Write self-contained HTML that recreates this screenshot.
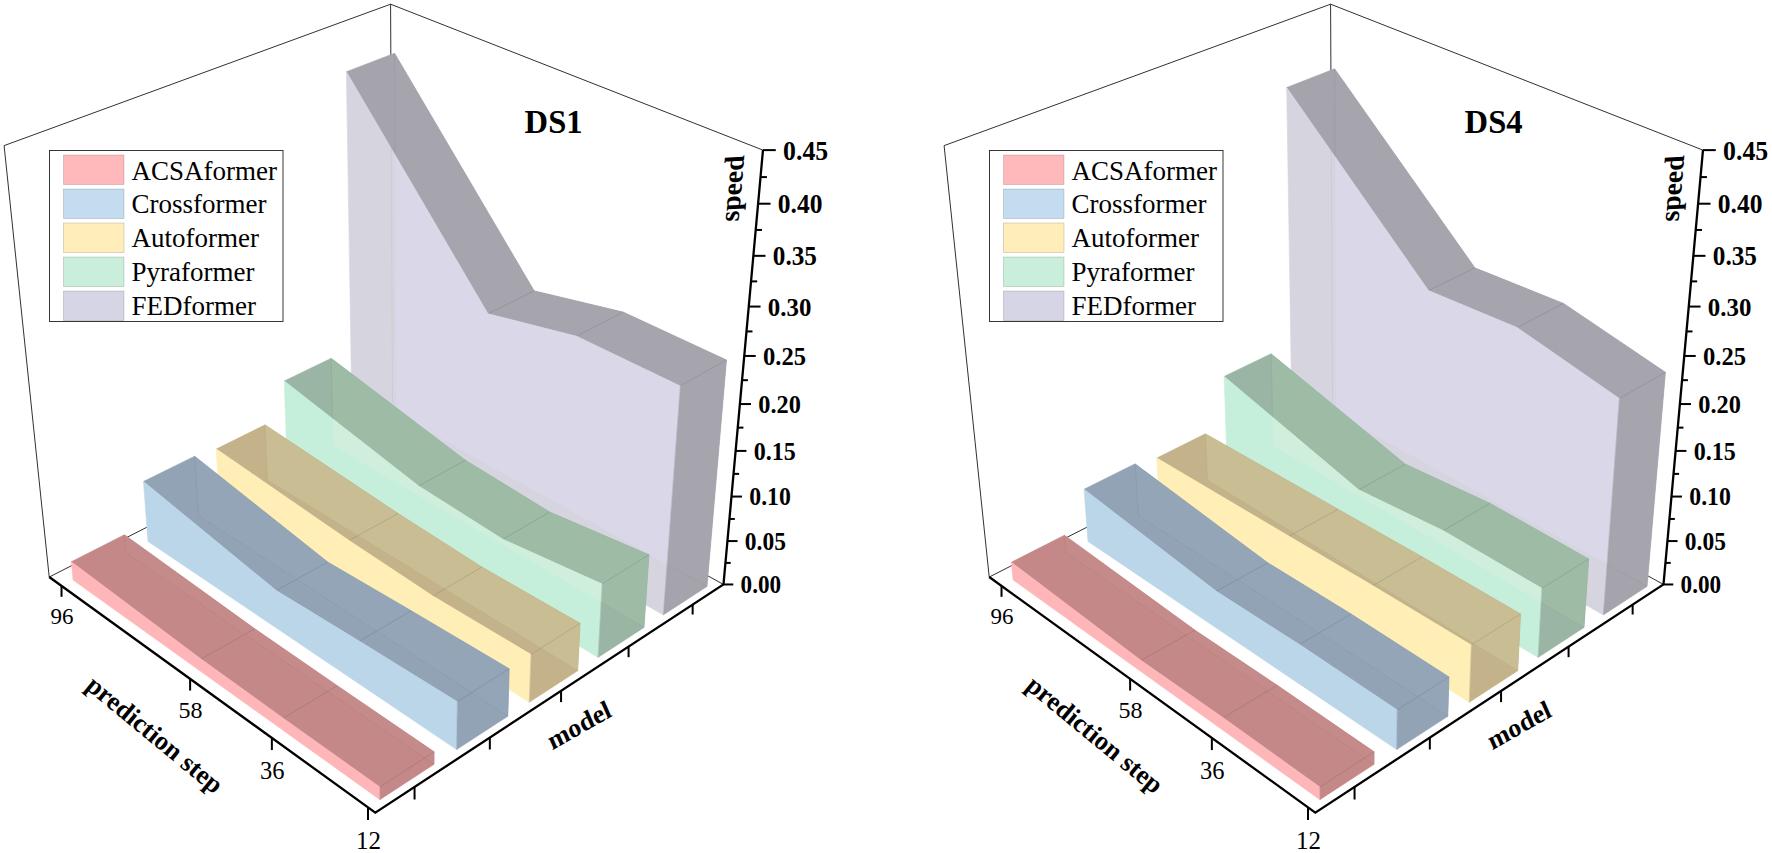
<!DOCTYPE html>
<html><head><meta charset="utf-8"><title>Speed comparison DS1 / DS4</title>
<style>
html,body{margin:0;padding:0;background:#fff;}
svg{display:block;}
text{font-family:"Liberation Serif","Times New Roman",serif;fill:#000;}
.b{font-weight:bold;}
.r{font-weight:normal;}
</style></head><body>
<svg width="1772" height="853" viewBox="0 0 1772 853">
<rect width="1772" height="853" fill="#fff"/>
<g>
<line x1="49.22" y1="577.05" x2="4.10" y2="145.61" stroke="#1a1a1a" stroke-width="0.9" />
<line x1="4.10" y1="145.61" x2="390.58" y2="4.20" stroke="#1a1a1a" stroke-width="0.9" />
<line x1="390.58" y1="4.20" x2="762.97" y2="150.11" stroke="#1a1a1a" stroke-width="0.9" />
<line x1="390.58" y1="4.20" x2="392.52" y2="401.82" stroke="#1a1a1a" stroke-width="0.9" />
<line x1="49.22" y1="577.05" x2="392.52" y2="401.82" stroke="#1a1a1a" stroke-width="0.9" />
<line x1="723.49" y1="584.46" x2="392.52" y2="401.82" stroke="#1a1a1a" stroke-width="0.9" />
<clipPath id="cDS14"><polygon points="346.41,71.74 487.93,313.76 576.67,336.24 680.25,386.02 663.29,614.92 707.02,586.42 726.54,359.93 623.13,312.01 534.17,290.84 394.60,53.22"/></clipPath>
<polygon points="346.41,71.74 487.93,313.76 576.67,336.24 680.25,386.02 663.29,614.92 707.02,586.42 726.54,359.93 623.13,312.01 534.17,290.84 394.60,53.22" fill="#A5A3AC" stroke="#A5A3AC" stroke-width="0.6"/>
<g clip-path="url(#cDS14)"><polygon points="394.60,53.22 534.17,290.84 623.13,312.01 726.54,359.93 707.02,586.42 610.49,532.76 527.68,486.74 396.02,413.56" fill="#A6A5AE" stroke="#A6A5AE" stroke-width="0.5"/><line x1="394.60" y1="53.22" x2="396.02" y2="413.56" stroke="#000" stroke-width="0.7" stroke-opacity="0.07"/><polyline points="396.02,413.56 527.68,486.74 610.49,532.76 707.02,586.42" fill="none" stroke="#000" stroke-opacity="0.05" stroke-width="0.7"/></g>
<line x1="487.93" y1="313.76" x2="534.17" y2="290.84" stroke="#2a3a4a" stroke-width="0.8" stroke-opacity="0.2"/>
<line x1="576.67" y1="336.24" x2="623.13" y2="312.01" stroke="#2a3a4a" stroke-width="0.8" stroke-opacity="0.2"/>
<line x1="680.25" y1="386.02" x2="726.54" y2="359.93" stroke="#2a3a4a" stroke-width="0.8" stroke-opacity="0.18"/>
<clipPath id="fDS14"><polygon points="346.41,71.74 487.93,313.76 576.67,336.24 680.25,386.02 663.29,614.92 566.62,559.34 483.80,511.71 352.29,436.10"/></clipPath>
<polygon points="346.41,71.74 487.93,313.76 576.67,336.24 680.25,386.02 663.29,614.92 566.62,559.34 483.80,511.71 352.29,436.10" fill="#D6D5DF" stroke="#D6D5DF" stroke-width="0.6"/>
<g clip-path="url(#fDS14)"><polygon points="394.60,53.22 534.17,290.84 623.13,312.01 726.54,359.93 707.02,586.42 610.49,532.76 527.68,486.74 396.02,413.56" fill="#D9D7E8" /><line x1="390.58" y1="4.20" x2="392.52" y2="401.82" stroke="#000" stroke-width="0.8" stroke-opacity="0.06"/></g>
<line x1="680.25" y1="386.02" x2="663.29" y2="614.92" stroke="#2a3a4a" stroke-width="0.8" stroke-opacity="0.20"/>
<clipPath id="cDS13"><polygon points="284.29,381.00 418.64,485.88 502.84,539.29 602.11,583.99 598.02,657.46 644.06,627.46 649.06,554.70 549.70,511.94 465.50,460.29 331.23,358.29"/></clipPath>
<polygon points="284.29,381.00 418.64,485.88 502.84,539.29 602.11,583.99 598.02,657.46 644.06,627.46 649.06,554.70 549.70,511.94 465.50,460.29 331.23,358.29" fill="#9BB5A4" stroke="#9BB5A4" stroke-width="0.6"/>
<g clip-path="url(#cDS13)"><polygon points="331.23,358.29 465.50,460.29 549.70,511.94 649.06,554.70 644.06,627.46 547.36,571.01 464.54,522.68 333.12,445.97" fill="#9DBBA5" stroke="#9DBBA5" stroke-width="0.5"/><line x1="331.23" y1="358.29" x2="333.12" y2="445.97" stroke="#000" stroke-width="0.7" stroke-opacity="0.07"/><polyline points="333.12,445.97 464.54,522.68 547.36,571.01 644.06,627.46" fill="none" stroke="#000" stroke-opacity="0.05" stroke-width="0.7"/></g>
<line x1="418.64" y1="485.88" x2="465.50" y2="460.29" stroke="#2a3a4a" stroke-width="0.8" stroke-opacity="0.2"/>
<line x1="502.84" y1="539.29" x2="549.70" y2="511.94" stroke="#2a3a4a" stroke-width="0.8" stroke-opacity="0.2"/>
<line x1="602.11" y1="583.99" x2="649.06" y2="554.70" stroke="#2a3a4a" stroke-width="0.8" stroke-opacity="0.18"/>
<clipPath id="fDS13"><polygon points="284.29,381.00 418.64,485.88 502.84,539.29 602.11,583.99 598.02,657.46 501.26,598.94 418.49,548.88 287.35,469.56"/></clipPath>
<polygon points="284.29,381.00 418.64,485.88 502.84,539.29 602.11,583.99 598.02,657.46 501.26,598.94 418.49,548.88 287.35,469.56" fill="#C5EFDA" stroke="#C5EFDA" stroke-width="0.6"/>
<g clip-path="url(#fDS13)"><polygon points="331.23,358.29 465.50,460.29 549.70,511.94 649.06,554.70 644.06,627.46 547.36,571.01 464.54,522.68 333.12,445.97" fill="#CFEEDB" /></g>
<line x1="602.11" y1="583.99" x2="598.02" y2="657.46" stroke="#2a3a4a" stroke-width="0.8" stroke-opacity="0.20"/>
<clipPath id="cDS12"><polygon points="216.31,449.01 349.08,540.51 432.79,595.98 530.94,654.49 529.23,702.30 577.77,670.67 580.13,623.31 481.91,567.03 398.11,513.44 265.06,424.84"/></clipPath>
<polygon points="216.31,449.01 349.08,540.51 432.79,595.98 530.94,654.49 529.23,702.30 577.77,670.67 580.13,623.31 481.91,567.03 398.11,513.44 265.06,424.84" fill="#C4B38A" stroke="#C4B38A" stroke-width="0.6"/>
<g clip-path="url(#cDS12)"><polygon points="265.06,424.84 398.11,513.44 481.91,567.03 580.13,623.31 577.77,670.67 481.00,611.22 398.27,560.39 267.28,479.91" fill="#C8BD93" stroke="#C8BD93" stroke-width="0.5"/><line x1="265.06" y1="424.84" x2="267.28" y2="479.91" stroke="#000" stroke-width="0.7" stroke-opacity="0.07"/><polyline points="267.28,479.91 398.27,560.39 481.00,611.22 577.77,670.67" fill="none" stroke="#000" stroke-opacity="0.05" stroke-width="0.7"/></g>
<line x1="349.08" y1="540.51" x2="398.11" y2="513.44" stroke="#2a3a4a" stroke-width="0.8" stroke-opacity="0.2"/>
<line x1="432.79" y1="595.98" x2="481.91" y2="567.03" stroke="#2a3a4a" stroke-width="0.8" stroke-opacity="0.2"/>
<line x1="530.94" y1="654.49" x2="580.13" y2="623.31" stroke="#2a3a4a" stroke-width="0.8" stroke-opacity="0.18"/>
<clipPath id="fDS12"><polygon points="216.31,449.01 349.08,540.51 432.79,595.98 530.94,654.49 529.23,702.30 432.50,640.60 349.91,587.92 219.32,504.62"/></clipPath>
<polygon points="216.31,449.01 349.08,540.51 432.79,595.98 530.94,654.49 529.23,702.30 432.50,640.60 349.91,587.92 219.32,504.62" fill="#FFEEB5" stroke="#FFEEB5" stroke-width="0.6"/>
<g clip-path="url(#fDS12)"><polygon points="265.06,424.84 398.11,513.44 481.91,567.03 580.13,623.31 577.77,670.67 481.00,611.22 398.27,560.39 267.28,479.91" fill="#FFF0BB" /></g>
<line x1="530.94" y1="654.49" x2="529.23" y2="702.30" stroke="#2a3a4a" stroke-width="0.8" stroke-opacity="0.20"/>
<clipPath id="cDS11"><polygon points="143.48,481.51 276.30,590.60 359.43,641.21 457.31,701.71 456.63,749.62 507.87,716.23 509.26,668.76 411.18,610.66 327.75,562.01 194.70,456.17"/></clipPath>
<polygon points="143.48,481.51 276.30,590.60 359.43,641.21 457.31,701.71 456.63,749.62 507.87,716.23 509.26,668.76 411.18,610.66 327.75,562.01 194.70,456.17" fill="#92A3B5" stroke="#92A3B5" stroke-width="0.6"/>
<g clip-path="url(#cDS11)"><polygon points="194.70,456.17 327.75,562.01 411.18,610.66 509.26,668.76 507.87,716.23 411.17,653.52 328.66,600.01 198.28,515.46" fill="#93A5B7" stroke="#93A5B7" stroke-width="0.5"/><line x1="194.70" y1="456.17" x2="198.28" y2="515.46" stroke="#000" stroke-width="0.7" stroke-opacity="0.07"/><polyline points="198.28,515.46 328.66,600.01 411.17,653.52 507.87,716.23" fill="none" stroke="#000" stroke-opacity="0.05" stroke-width="0.7"/></g>
<line x1="276.30" y1="590.60" x2="327.75" y2="562.01" stroke="#2a3a4a" stroke-width="0.8" stroke-opacity="0.2"/>
<line x1="359.43" y1="641.21" x2="411.18" y2="610.66" stroke="#2a3a4a" stroke-width="0.8" stroke-opacity="0.2"/>
<line x1="457.31" y1="701.71" x2="509.26" y2="668.76" stroke="#2a3a4a" stroke-width="0.8" stroke-opacity="0.18"/>
<clipPath id="fDS11"><polygon points="143.48,481.51 276.30,590.60 359.43,641.21 457.31,701.71 456.63,749.62 360.08,684.48 277.79,628.96 147.98,541.38"/></clipPath>
<polygon points="143.48,481.51 276.30,590.60 359.43,641.21 457.31,701.71 456.63,749.62 360.08,684.48 277.79,628.96 147.98,541.38" fill="#BCD6E9" stroke="#BCD6E9" stroke-width="0.6"/>
<g clip-path="url(#fDS11)"><polygon points="194.70,456.17 327.75,562.01 411.18,610.66 509.26,668.76 507.87,716.23 411.17,653.52 328.66,600.01 198.28,515.46" fill="#BFD8EB" /></g>
<line x1="457.31" y1="701.71" x2="456.63" y2="749.62" stroke="#2a3a4a" stroke-width="0.8" stroke-opacity="0.20"/>
<clipPath id="cDS10"><polygon points="71.30,561.77 201.05,659.10 283.20,718.18 379.77,786.99 379.89,799.64 434.06,764.33 434.15,751.79 337.32,685.64 254.83,628.74 124.42,534.72"/></clipPath>
<polygon points="71.30,561.77 201.05,659.10 283.20,718.18 379.77,786.99 379.89,799.64 434.06,764.33 434.15,751.79 337.32,685.64 254.83,628.74 124.42,534.72" fill="#C48888" stroke="#C48888" stroke-width="0.6"/>
<g clip-path="url(#cDS10)"><polygon points="124.42,534.72 254.83,628.74 337.32,685.64 434.15,751.79 434.06,764.33 337.59,698.10 255.43,641.69 125.90,552.76" fill="#C58B8B" stroke="#C58B8B" stroke-width="0.5"/><line x1="124.42" y1="534.72" x2="125.90" y2="552.76" stroke="#000" stroke-width="0.7" stroke-opacity="0.07"/><polyline points="125.90,552.76 255.43,641.69 337.59,698.10 434.06,764.33" fill="none" stroke="#000" stroke-opacity="0.05" stroke-width="0.7"/></g>
<line x1="201.05" y1="659.10" x2="254.83" y2="628.74" stroke="#2a3a4a" stroke-width="0.8" stroke-opacity="0.2"/>
<line x1="283.20" y1="718.18" x2="337.32" y2="685.64" stroke="#2a3a4a" stroke-width="0.8" stroke-opacity="0.2"/>
<line x1="379.77" y1="786.99" x2="434.15" y2="751.79" stroke="#2a3a4a" stroke-width="0.8" stroke-opacity="0.18"/>
<clipPath id="fDS10"><polygon points="71.30,561.77 201.05,659.10 283.20,718.18 379.77,786.99 379.89,799.64 283.68,730.76 201.86,672.18 73.08,579.98"/></clipPath>
<polygon points="71.30,561.77 201.05,659.10 283.20,718.18 379.77,786.99 379.89,799.64 283.68,730.76 201.86,672.18 73.08,579.98" fill="#FFB6B9" stroke="#FFB6B9" stroke-width="0.6"/>
<g clip-path="url(#fDS10)"><polygon points="124.42,534.72 254.83,628.74 337.32,685.64 434.15,751.79 434.06,764.33 337.59,698.10 255.43,641.69 125.90,552.76" fill="#FFB8BB" /></g>
<line x1="379.77" y1="786.99" x2="379.89" y2="799.64" stroke="#2a3a4a" stroke-width="0.8" stroke-opacity="0.20"/>
<polyline points="49.22,577.05 375.31,812.67 723.49,584.46 762.97,150.11" fill="none" stroke="#000" stroke-width="2.3" stroke-linejoin="miter"/>
<line x1="61.52" y1="585.94" x2="61.52" y2="596.82" stroke="#000" stroke-width="2.0" />
<text x="62.02" y="624.49" font-size="23" text-anchor="middle" class="r">96</text>
<line x1="190.12" y1="678.86" x2="190.12" y2="690.55" stroke="#000" stroke-width="2.0" />
<text x="190.62" y="718.09" font-size="24" text-anchor="middle" class="r">58</text>
<line x1="271.86" y1="737.93" x2="271.86" y2="750.08" stroke="#000" stroke-width="2.0" />
<text x="272.36" y="778.69" font-size="24.5" text-anchor="middle" class="r">36</text>
<line x1="368.00" y1="807.39" x2="368.00" y2="820.06" stroke="#000" stroke-width="2.0" />
<text x="368.50" y="849.29" font-size="25" text-anchor="middle" class="r">12</text>
<line x1="414.56" y1="786.94" x2="414.56" y2="799.50" stroke="#000" stroke-width="2.0" />
<line x1="489.83" y1="737.61" x2="489.83" y2="749.49" stroke="#000" stroke-width="2.0" />
<line x1="561.06" y1="690.92" x2="561.06" y2="702.12" stroke="#000" stroke-width="2.0" />
<line x1="628.57" y1="646.67" x2="628.57" y2="657.19" stroke="#000" stroke-width="2.0" />
<line x1="692.65" y1="604.67" x2="692.65" y2="614.51" stroke="#000" stroke-width="2.0" />
<line x1="723.49" y1="584.46" x2="733.29" y2="584.46" stroke="#000" stroke-width="2.0" />
<text transform="translate(740.59 593.16) scale(1 1.045)" font-size="23.20" class="b">0.00</text>
<line x1="725.45" y1="562.90" x2="730.72" y2="562.90" stroke="#000" stroke-width="2.0" />
<line x1="727.43" y1="541.07" x2="737.57" y2="541.07" stroke="#000" stroke-width="2.0" />
<text transform="translate(744.87 549.86) scale(1 1.045)" font-size="23.49" class="b">0.05</text>
<line x1="729.44" y1="518.95" x2="734.86" y2="518.95" stroke="#000" stroke-width="2.0" />
<line x1="731.48" y1="496.56" x2="741.95" y2="496.56" stroke="#000" stroke-width="2.0" />
<text transform="translate(749.25 505.46) scale(1 1.045)" font-size="23.78" class="b">0.10</text>
<line x1="733.54" y1="473.88" x2="739.10" y2="473.88" stroke="#000" stroke-width="2.0" />
<line x1="735.63" y1="450.91" x2="746.43" y2="450.91" stroke="#000" stroke-width="2.0" />
<text transform="translate(753.73 459.91) scale(1 1.045)" font-size="24.07" class="b">0.15</text>
<line x1="737.74" y1="427.63" x2="743.45" y2="427.63" stroke="#000" stroke-width="2.0" />
<line x1="739.89" y1="404.05" x2="751.02" y2="404.05" stroke="#000" stroke-width="2.0" />
<text transform="translate(758.32 413.16) scale(1 1.045)" font-size="24.36" class="b">0.20</text>
<line x1="742.06" y1="380.17" x2="747.91" y2="380.17" stroke="#000" stroke-width="2.0" />
<line x1="744.26" y1="355.96" x2="755.73" y2="355.96" stroke="#000" stroke-width="2.0" />
<text transform="translate(763.03 365.16) scale(1 1.045)" font-size="24.64" class="b">0.25</text>
<line x1="746.49" y1="331.43" x2="752.48" y2="331.43" stroke="#000" stroke-width="2.0" />
<line x1="748.75" y1="306.57" x2="760.55" y2="306.57" stroke="#000" stroke-width="2.0" />
<text transform="translate(767.85 315.88) scale(1 1.045)" font-size="24.93" class="b">0.30</text>
<line x1="751.04" y1="281.38" x2="757.18" y2="281.38" stroke="#000" stroke-width="2.0" />
<line x1="753.36" y1="255.84" x2="765.49" y2="255.84" stroke="#000" stroke-width="2.0" />
<text transform="translate(772.79 265.25) scale(1 1.045)" font-size="25.22" class="b">0.35</text>
<line x1="755.71" y1="229.95" x2="762.00" y2="229.95" stroke="#000" stroke-width="2.0" />
<line x1="758.10" y1="203.71" x2="770.57" y2="203.71" stroke="#000" stroke-width="2.0" />
<text transform="translate(777.87 213.22) scale(1 1.045)" font-size="25.51" class="b">0.40</text>
<line x1="760.52" y1="177.09" x2="766.95" y2="177.09" stroke="#000" stroke-width="2.0" />
<line x1="762.97" y1="150.11" x2="775.77" y2="150.11" stroke="#000" stroke-width="2.0" />
<text transform="translate(783.07 159.72) scale(1 1.045)" font-size="25.80" class="b">0.45</text>
<text transform="translate(524.6 132.7) scale(0.945 1)" font-size="34.5" class="b">DS1</text>
<text transform="matrix(0.087 -0.996 1 -0.05 738.6 221.3)" font-size="27.9" class="b">speed</text>
<text transform="translate(84.5 688) rotate(39.5)" font-size="26.5" class="b">prediction step</text>
<text transform="translate(552.2 750.2) rotate(-29.5) skewX(-5.5) scale(1 0.96)" font-size="26.8" class="b">model</text>
<rect x="49.5" y="150.5" width="233.5" height="171" fill="#fff" stroke="#222" stroke-width="0.9"/>
<rect x="63.5" y="155.00" width="60.5" height="29.5" fill="#FFB9BB" stroke="#000" stroke-opacity="0.18" stroke-width="0.8"/>
<text transform="translate(131.5 179.50) scale(1 1.04)" font-size="27" class="r">ACSAformer</text>
<rect x="63.5" y="189.00" width="60.5" height="29.5" fill="#C4DCF0" stroke="#000" stroke-opacity="0.18" stroke-width="0.8"/>
<text transform="translate(131.5 213.40) scale(1 1.04)" font-size="27" class="r">Crossformer</text>
<rect x="63.5" y="223.00" width="60.5" height="29.5" fill="#FFEDBA" stroke="#000" stroke-opacity="0.18" stroke-width="0.8"/>
<text transform="translate(131.5 247.30) scale(1 1.04)" font-size="27" class="r">Autoformer</text>
<rect x="63.5" y="257.00" width="60.5" height="29.5" fill="#C9EFDB" stroke="#000" stroke-opacity="0.18" stroke-width="0.8"/>
<text transform="translate(131.5 281.20) scale(1 1.04)" font-size="27" class="r">Pyraformer</text>
<rect x="63.5" y="291.00" width="60.5" height="29.5" fill="#D6D5E6" stroke="#000" stroke-opacity="0.18" stroke-width="0.8"/>
<text transform="translate(131.5 315.10) scale(1 1.04)" font-size="27" class="r">FEDformer</text>
</g>
<g transform="translate(940 0)">
<line x1="49.22" y1="577.05" x2="4.10" y2="145.61" stroke="#1a1a1a" stroke-width="0.9" />
<line x1="4.10" y1="145.61" x2="390.58" y2="4.20" stroke="#1a1a1a" stroke-width="0.9" />
<line x1="390.58" y1="4.20" x2="762.97" y2="150.11" stroke="#1a1a1a" stroke-width="0.9" />
<line x1="390.58" y1="4.20" x2="392.52" y2="401.82" stroke="#1a1a1a" stroke-width="0.9" />
<line x1="49.22" y1="577.05" x2="392.52" y2="401.82" stroke="#1a1a1a" stroke-width="0.9" />
<line x1="723.49" y1="584.46" x2="392.52" y2="401.82" stroke="#1a1a1a" stroke-width="0.9" />
<clipPath id="cDS44"><polygon points="346.66,87.51 488.42,290.51 577.06,327.52 679.32,398.49 663.29,614.92 707.02,586.42 725.48,372.25 623.62,303.40 534.93,267.85 394.66,68.80"/></clipPath>
<polygon points="346.66,87.51 488.42,290.51 577.06,327.52 679.32,398.49 663.29,614.92 707.02,586.42 725.48,372.25 623.62,303.40 534.93,267.85 394.66,68.80" fill="#A5A3AC" stroke="#A5A3AC" stroke-width="0.6"/>
<g clip-path="url(#cDS44)"><polygon points="394.66,68.80 534.93,267.85 623.62,303.40 725.48,372.25 707.02,586.42 610.49,532.76 527.68,486.74 396.02,413.56" fill="#A6A5AE" stroke="#A6A5AE" stroke-width="0.5"/><line x1="394.66" y1="68.80" x2="396.02" y2="413.56" stroke="#000" stroke-width="0.7" stroke-opacity="0.07"/><polyline points="396.02,413.56 527.68,486.74 610.49,532.76 707.02,586.42" fill="none" stroke="#000" stroke-opacity="0.05" stroke-width="0.7"/></g>
<line x1="488.42" y1="290.51" x2="534.93" y2="267.85" stroke="#2a3a4a" stroke-width="0.8" stroke-opacity="0.2"/>
<line x1="577.06" y1="327.52" x2="623.62" y2="303.40" stroke="#2a3a4a" stroke-width="0.8" stroke-opacity="0.2"/>
<line x1="679.32" y1="398.49" x2="725.48" y2="372.25" stroke="#2a3a4a" stroke-width="0.8" stroke-opacity="0.18"/>
<clipPath id="fDS44"><polygon points="346.66,87.51 488.42,290.51 577.06,327.52 679.32,398.49 663.29,614.92 566.62,559.34 483.80,511.71 352.29,436.10"/></clipPath>
<polygon points="346.66,87.51 488.42,290.51 577.06,327.52 679.32,398.49 663.29,614.92 566.62,559.34 483.80,511.71 352.29,436.10" fill="#D6D5DF" stroke="#D6D5DF" stroke-width="0.6"/>
<g clip-path="url(#fDS44)"><polygon points="394.66,68.80 534.93,267.85 623.62,303.40 725.48,372.25 707.02,586.42 610.49,532.76 527.68,486.74 396.02,413.56" fill="#D9D7E8" /><line x1="390.58" y1="4.20" x2="392.52" y2="401.82" stroke="#000" stroke-width="0.8" stroke-opacity="0.06"/></g>
<line x1="679.32" y1="398.49" x2="663.29" y2="614.92" stroke="#2a3a4a" stroke-width="0.8" stroke-opacity="0.20"/>
<clipPath id="cDS43"><polygon points="284.13,376.39 418.63,489.82 503.07,530.61 601.87,588.32 598.02,657.46 644.06,627.46 648.77,558.98 550.04,503.35 465.44,464.19 331.13,353.72"/></clipPath>
<polygon points="284.13,376.39 418.63,489.82 503.07,530.61 601.87,588.32 598.02,657.46 644.06,627.46 648.77,558.98 550.04,503.35 465.44,464.19 331.13,353.72" fill="#9BB5A4" stroke="#9BB5A4" stroke-width="0.6"/>
<g clip-path="url(#cDS43)"><polygon points="331.13,353.72 465.44,464.19 550.04,503.35 648.77,558.98 644.06,627.46 547.36,571.01 464.54,522.68 333.12,445.97" fill="#9DBBA5" stroke="#9DBBA5" stroke-width="0.5"/><line x1="331.13" y1="353.72" x2="333.12" y2="445.97" stroke="#000" stroke-width="0.7" stroke-opacity="0.07"/><polyline points="333.12,445.97 464.54,522.68 547.36,571.01 644.06,627.46" fill="none" stroke="#000" stroke-opacity="0.05" stroke-width="0.7"/></g>
<line x1="418.63" y1="489.82" x2="465.44" y2="464.19" stroke="#2a3a4a" stroke-width="0.8" stroke-opacity="0.2"/>
<line x1="503.07" y1="530.61" x2="550.04" y2="503.35" stroke="#2a3a4a" stroke-width="0.8" stroke-opacity="0.2"/>
<line x1="601.87" y1="588.32" x2="648.77" y2="558.98" stroke="#2a3a4a" stroke-width="0.8" stroke-opacity="0.18"/>
<clipPath id="fDS43"><polygon points="284.13,376.39 418.63,489.82 503.07,530.61 601.87,588.32 598.02,657.46 501.26,598.94 418.49,548.88 287.35,469.56"/></clipPath>
<polygon points="284.13,376.39 418.63,489.82 503.07,530.61 601.87,588.32 598.02,657.46 501.26,598.94 418.49,548.88 287.35,469.56" fill="#C5EFDA" stroke="#C5EFDA" stroke-width="0.6"/>
<g clip-path="url(#fDS43)"><polygon points="331.13,353.72 465.44,464.19 550.04,503.35 648.77,558.98 644.06,627.46 547.36,571.01 464.54,522.68 333.12,445.97" fill="#CFEEDB" /></g>
<line x1="601.87" y1="588.32" x2="598.02" y2="657.46" stroke="#2a3a4a" stroke-width="0.8" stroke-opacity="0.20"/>
<clipPath id="cDS42"><polygon points="216.80,458.01 349.00,536.19 432.86,585.72 531.28,644.99 529.23,702.30 577.77,670.67 580.60,613.90 482.13,556.86 398.10,509.16 265.42,433.75"/></clipPath>
<polygon points="216.80,458.01 349.00,536.19 432.86,585.72 531.28,644.99 529.23,702.30 577.77,670.67 580.60,613.90 482.13,556.86 398.10,509.16 265.42,433.75" fill="#C4B38A" stroke="#C4B38A" stroke-width="0.6"/>
<g clip-path="url(#cDS42)"><polygon points="265.42,433.75 398.10,509.16 482.13,556.86 580.60,613.90 577.77,670.67 481.00,611.22 398.27,560.39 267.28,479.91" fill="#C8BD93" stroke="#C8BD93" stroke-width="0.5"/><line x1="265.42" y1="433.75" x2="267.28" y2="479.91" stroke="#000" stroke-width="0.7" stroke-opacity="0.07"/><polyline points="267.28,479.91 398.27,560.39 481.00,611.22 577.77,670.67" fill="none" stroke="#000" stroke-opacity="0.05" stroke-width="0.7"/></g>
<line x1="349.00" y1="536.19" x2="398.10" y2="509.16" stroke="#2a3a4a" stroke-width="0.8" stroke-opacity="0.2"/>
<line x1="432.86" y1="585.72" x2="482.13" y2="556.86" stroke="#2a3a4a" stroke-width="0.8" stroke-opacity="0.2"/>
<line x1="531.28" y1="644.99" x2="580.60" y2="613.90" stroke="#2a3a4a" stroke-width="0.8" stroke-opacity="0.18"/>
<clipPath id="fDS42"><polygon points="216.80,458.01 349.00,536.19 432.86,585.72 531.28,644.99 529.23,702.30 432.50,640.60 349.91,587.92 219.32,504.62"/></clipPath>
<polygon points="216.80,458.01 349.00,536.19 432.86,585.72 531.28,644.99 529.23,702.30 432.50,640.60 349.91,587.92 219.32,504.62" fill="#FFEEB5" stroke="#FFEEB5" stroke-width="0.6"/>
<g clip-path="url(#fDS42)"><polygon points="265.42,433.75 398.10,509.16 482.13,556.86 580.60,613.90 577.77,670.67 481.00,611.22 398.27,560.39 267.28,479.91" fill="#FFF0BB" /></g>
<line x1="531.28" y1="644.99" x2="529.23" y2="702.30" stroke="#2a3a4a" stroke-width="0.8" stroke-opacity="0.20"/>
<clipPath id="cDS41"><polygon points="144.06,489.25 276.33,591.31 359.48,644.59 457.19,709.91 456.63,749.62 507.87,716.23 509.02,676.88 411.18,614.01 327.77,562.72 195.17,463.84"/></clipPath>
<polygon points="144.06,489.25 276.33,591.31 359.48,644.59 457.19,709.91 456.63,749.62 507.87,716.23 509.02,676.88 411.18,614.01 327.77,562.72 195.17,463.84" fill="#92A3B5" stroke="#92A3B5" stroke-width="0.6"/>
<g clip-path="url(#cDS41)"><polygon points="195.17,463.84 327.77,562.72 411.18,614.01 509.02,676.88 507.87,716.23 411.17,653.52 328.66,600.01 198.28,515.46" fill="#93A5B7" stroke="#93A5B7" stroke-width="0.5"/><line x1="195.17" y1="463.84" x2="198.28" y2="515.46" stroke="#000" stroke-width="0.7" stroke-opacity="0.07"/><polyline points="198.28,515.46 328.66,600.01 411.17,653.52 507.87,716.23" fill="none" stroke="#000" stroke-opacity="0.05" stroke-width="0.7"/></g>
<line x1="276.33" y1="591.31" x2="327.77" y2="562.72" stroke="#2a3a4a" stroke-width="0.8" stroke-opacity="0.2"/>
<line x1="359.48" y1="644.59" x2="411.18" y2="614.01" stroke="#2a3a4a" stroke-width="0.8" stroke-opacity="0.2"/>
<line x1="457.19" y1="709.91" x2="509.02" y2="676.88" stroke="#2a3a4a" stroke-width="0.8" stroke-opacity="0.18"/>
<clipPath id="fDS41"><polygon points="144.06,489.25 276.33,591.31 359.48,644.59 457.19,709.91 456.63,749.62 360.08,684.48 277.79,628.96 147.98,541.38"/></clipPath>
<polygon points="144.06,489.25 276.33,591.31 359.48,644.59 457.19,709.91 456.63,749.62 360.08,684.48 277.79,628.96 147.98,541.38" fill="#BCD6E9" stroke="#BCD6E9" stroke-width="0.6"/>
<g clip-path="url(#fDS41)"><polygon points="195.17,463.84 327.77,562.72 411.18,614.01 509.02,676.88 507.87,716.23 411.17,653.52 328.66,600.01 198.28,515.46" fill="#BFD8EB" /></g>
<line x1="457.19" y1="709.91" x2="456.63" y2="749.62" stroke="#2a3a4a" stroke-width="0.8" stroke-opacity="0.20"/>
<clipPath id="cDS40"><polygon points="71.35,562.23 201.13,660.50 283.19,717.82 379.77,786.99 379.89,799.64 434.06,764.33 434.15,751.79 337.31,685.28 254.90,630.12 124.46,535.18"/></clipPath>
<polygon points="71.35,562.23 201.13,660.50 283.19,717.82 379.77,786.99 379.89,799.64 434.06,764.33 434.15,751.79 337.31,685.28 254.90,630.12 124.46,535.18" fill="#C48888" stroke="#C48888" stroke-width="0.6"/>
<g clip-path="url(#cDS40)"><polygon points="124.46,535.18 254.90,630.12 337.31,685.28 434.15,751.79 434.06,764.33 337.59,698.10 255.43,641.69 125.90,552.76" fill="#C58B8B" stroke="#C58B8B" stroke-width="0.5"/><line x1="124.46" y1="535.18" x2="125.90" y2="552.76" stroke="#000" stroke-width="0.7" stroke-opacity="0.07"/><polyline points="125.90,552.76 255.43,641.69 337.59,698.10 434.06,764.33" fill="none" stroke="#000" stroke-opacity="0.05" stroke-width="0.7"/></g>
<line x1="201.13" y1="660.50" x2="254.90" y2="630.12" stroke="#2a3a4a" stroke-width="0.8" stroke-opacity="0.2"/>
<line x1="283.19" y1="717.82" x2="337.31" y2="685.28" stroke="#2a3a4a" stroke-width="0.8" stroke-opacity="0.2"/>
<line x1="379.77" y1="786.99" x2="434.15" y2="751.79" stroke="#2a3a4a" stroke-width="0.8" stroke-opacity="0.18"/>
<clipPath id="fDS40"><polygon points="71.35,562.23 201.13,660.50 283.19,717.82 379.77,786.99 379.89,799.64 283.68,730.76 201.86,672.18 73.08,579.98"/></clipPath>
<polygon points="71.35,562.23 201.13,660.50 283.19,717.82 379.77,786.99 379.89,799.64 283.68,730.76 201.86,672.18 73.08,579.98" fill="#FFB6B9" stroke="#FFB6B9" stroke-width="0.6"/>
<g clip-path="url(#fDS40)"><polygon points="124.46,535.18 254.90,630.12 337.31,685.28 434.15,751.79 434.06,764.33 337.59,698.10 255.43,641.69 125.90,552.76" fill="#FFB8BB" /></g>
<line x1="379.77" y1="786.99" x2="379.89" y2="799.64" stroke="#2a3a4a" stroke-width="0.8" stroke-opacity="0.20"/>
<polyline points="49.22,577.05 375.31,812.67 723.49,584.46 762.97,150.11" fill="none" stroke="#000" stroke-width="2.3" stroke-linejoin="miter"/>
<line x1="61.52" y1="585.94" x2="61.52" y2="596.82" stroke="#000" stroke-width="2.0" />
<text x="62.02" y="624.49" font-size="23" text-anchor="middle" class="r">96</text>
<line x1="190.12" y1="678.86" x2="190.12" y2="690.55" stroke="#000" stroke-width="2.0" />
<text x="190.62" y="718.09" font-size="24" text-anchor="middle" class="r">58</text>
<line x1="271.86" y1="737.93" x2="271.86" y2="750.08" stroke="#000" stroke-width="2.0" />
<text x="272.36" y="778.69" font-size="24.5" text-anchor="middle" class="r">36</text>
<line x1="368.00" y1="807.39" x2="368.00" y2="820.06" stroke="#000" stroke-width="2.0" />
<text x="368.50" y="849.29" font-size="25" text-anchor="middle" class="r">12</text>
<line x1="414.56" y1="786.94" x2="414.56" y2="799.50" stroke="#000" stroke-width="2.0" />
<line x1="489.83" y1="737.61" x2="489.83" y2="749.49" stroke="#000" stroke-width="2.0" />
<line x1="561.06" y1="690.92" x2="561.06" y2="702.12" stroke="#000" stroke-width="2.0" />
<line x1="628.57" y1="646.67" x2="628.57" y2="657.19" stroke="#000" stroke-width="2.0" />
<line x1="692.65" y1="604.67" x2="692.65" y2="614.51" stroke="#000" stroke-width="2.0" />
<line x1="723.49" y1="584.46" x2="733.29" y2="584.46" stroke="#000" stroke-width="2.0" />
<text transform="translate(740.59 593.16) scale(1 1.045)" font-size="23.20" class="b">0.00</text>
<line x1="725.45" y1="562.90" x2="730.72" y2="562.90" stroke="#000" stroke-width="2.0" />
<line x1="727.43" y1="541.07" x2="737.57" y2="541.07" stroke="#000" stroke-width="2.0" />
<text transform="translate(744.87 549.86) scale(1 1.045)" font-size="23.49" class="b">0.05</text>
<line x1="729.44" y1="518.95" x2="734.86" y2="518.95" stroke="#000" stroke-width="2.0" />
<line x1="731.48" y1="496.56" x2="741.95" y2="496.56" stroke="#000" stroke-width="2.0" />
<text transform="translate(749.25 505.46) scale(1 1.045)" font-size="23.78" class="b">0.10</text>
<line x1="733.54" y1="473.88" x2="739.10" y2="473.88" stroke="#000" stroke-width="2.0" />
<line x1="735.63" y1="450.91" x2="746.43" y2="450.91" stroke="#000" stroke-width="2.0" />
<text transform="translate(753.73 459.91) scale(1 1.045)" font-size="24.07" class="b">0.15</text>
<line x1="737.74" y1="427.63" x2="743.45" y2="427.63" stroke="#000" stroke-width="2.0" />
<line x1="739.89" y1="404.05" x2="751.02" y2="404.05" stroke="#000" stroke-width="2.0" />
<text transform="translate(758.32 413.16) scale(1 1.045)" font-size="24.36" class="b">0.20</text>
<line x1="742.06" y1="380.17" x2="747.91" y2="380.17" stroke="#000" stroke-width="2.0" />
<line x1="744.26" y1="355.96" x2="755.73" y2="355.96" stroke="#000" stroke-width="2.0" />
<text transform="translate(763.03 365.16) scale(1 1.045)" font-size="24.64" class="b">0.25</text>
<line x1="746.49" y1="331.43" x2="752.48" y2="331.43" stroke="#000" stroke-width="2.0" />
<line x1="748.75" y1="306.57" x2="760.55" y2="306.57" stroke="#000" stroke-width="2.0" />
<text transform="translate(767.85 315.88) scale(1 1.045)" font-size="24.93" class="b">0.30</text>
<line x1="751.04" y1="281.38" x2="757.18" y2="281.38" stroke="#000" stroke-width="2.0" />
<line x1="753.36" y1="255.84" x2="765.49" y2="255.84" stroke="#000" stroke-width="2.0" />
<text transform="translate(772.79 265.25) scale(1 1.045)" font-size="25.22" class="b">0.35</text>
<line x1="755.71" y1="229.95" x2="762.00" y2="229.95" stroke="#000" stroke-width="2.0" />
<line x1="758.10" y1="203.71" x2="770.57" y2="203.71" stroke="#000" stroke-width="2.0" />
<text transform="translate(777.87 213.22) scale(1 1.045)" font-size="25.51" class="b">0.40</text>
<line x1="760.52" y1="177.09" x2="766.95" y2="177.09" stroke="#000" stroke-width="2.0" />
<line x1="762.97" y1="150.11" x2="775.77" y2="150.11" stroke="#000" stroke-width="2.0" />
<text transform="translate(783.07 159.72) scale(1 1.045)" font-size="25.80" class="b">0.45</text>
<text transform="translate(524.6 132.7) scale(0.945 1)" font-size="34.5" class="b">DS4</text>
<text transform="matrix(0.087 -0.996 1 -0.05 738.6 221.3)" font-size="27.9" class="b">speed</text>
<text transform="translate(84.5 688) rotate(39.5)" font-size="26.5" class="b">prediction step</text>
<text transform="translate(552.2 750.2) rotate(-29.5) skewX(-5.5) scale(1 0.96)" font-size="26.8" class="b">model</text>
<rect x="49.5" y="150.5" width="233.5" height="171" fill="#fff" stroke="#222" stroke-width="0.9"/>
<rect x="63.5" y="155.00" width="60.5" height="29.5" fill="#FFB9BB" stroke="#000" stroke-opacity="0.18" stroke-width="0.8"/>
<text transform="translate(131.5 179.50) scale(1 1.04)" font-size="27" class="r">ACSAformer</text>
<rect x="63.5" y="189.00" width="60.5" height="29.5" fill="#C4DCF0" stroke="#000" stroke-opacity="0.18" stroke-width="0.8"/>
<text transform="translate(131.5 213.40) scale(1 1.04)" font-size="27" class="r">Crossformer</text>
<rect x="63.5" y="223.00" width="60.5" height="29.5" fill="#FFEDBA" stroke="#000" stroke-opacity="0.18" stroke-width="0.8"/>
<text transform="translate(131.5 247.30) scale(1 1.04)" font-size="27" class="r">Autoformer</text>
<rect x="63.5" y="257.00" width="60.5" height="29.5" fill="#C9EFDB" stroke="#000" stroke-opacity="0.18" stroke-width="0.8"/>
<text transform="translate(131.5 281.20) scale(1 1.04)" font-size="27" class="r">Pyraformer</text>
<rect x="63.5" y="291.00" width="60.5" height="29.5" fill="#D6D5E6" stroke="#000" stroke-opacity="0.18" stroke-width="0.8"/>
<text transform="translate(131.5 315.10) scale(1 1.04)" font-size="27" class="r">FEDformer</text>
</g>
</svg>
</body></html>
